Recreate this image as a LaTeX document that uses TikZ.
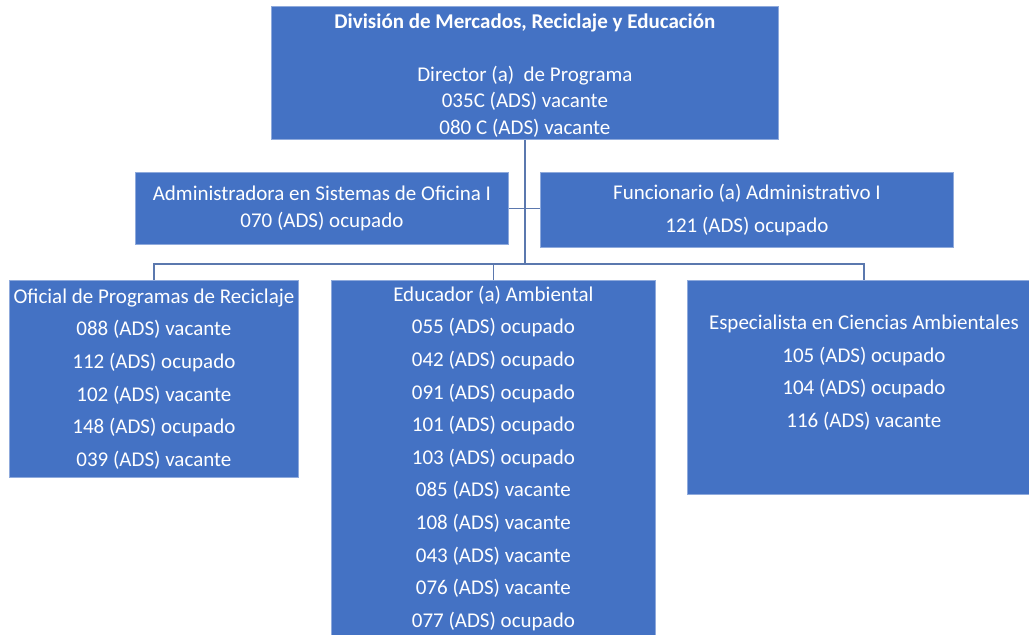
\documentclass[tikz,border=0pt]{standalone}
\usepackage{fontspec}
\setmainfont{Carlito}
\usepackage{xcolor}
\definecolor{boxblue}{HTML}{4472C4}
\definecolor{boxedge}{HTML}{8FAADC}
\definecolor{linkblue}{HTML}{5B78AE}
\tikzset{
  orgbox/.style={rectangle, fill=boxblue, draw=boxedge, line width=0.8pt,
    text=white, align=center, anchor=north west, inner sep=0pt},
  link/.style={draw=linkblue, line width=1.6pt}
}
\begin{document}
\begin{tikzpicture}[x=1pt,y=-1pt]
\def\busy{264}
\useasboundingbox (0,0) rectangle (1029,635);
  \node[orgbox, minimum width=507, minimum height=133,
        font=\fontsize{21}{26.5}\selectfont] (dir) at (271,6)
    {\rule{0pt}{20pt}\textbf{División de Mercados, Reciclaje y Educación}\\[26.5pt]
     Director (a)\ \ de Programa\\035C (ADS) vacante\\080 C (ADS) vacante};
  \node[orgbox, minimum width=373, minimum height=72,
        font=\fontsize{21}{27}\selectfont] (adm) at (135,172)
    {Administradora en Sistemas de Oficina I\\070 (ADS) ocupado};
  \node[orgbox, minimum width=413, minimum height=75,
        font=\fontsize{21}{33}\selectfont] (fun) at (540,172)
    {Funcionario (a) Administrativo I\\121 (ADS) ocupado};
  \node[orgbox, minimum width=289, minimum height=197,
        font=\fontsize{21}{32.6}\selectfont] (ofi) at (9,280)
    {Oficial de Programas de Reciclaje\\088 (ADS) vacante\\112 (ADS) ocupado\\
     102 (ADS) vacante\\148 (ADS) ocupado\\039 (ADS) vacante};
  \node[orgbox, minimum width=324, minimum height=356,
        font=\fontsize{21}{32.6}\selectfont] (edu) at (331,280)
    {Educador (a) Ambiental\\055 (ADS) ocupado\\042 (ADS) ocupado\\
     091 (ADS) ocupado\\101 (ADS) ocupado\\103 (ADS) ocupado\\
     085 (ADS) vacante\\108 (ADS) vacante\\043 (ADS) vacante\\
     076 (ADS) vacante\\077 (ADS) ocupado};
  \node[orgbox, minimum width=353, minimum height=214,
        font=\fontsize{21}{32.6}\selectfont] (esp) at (687,280)
    {Especialista en Ciencias Ambientales\\105 (ADS) ocupado\\
     104 (ADS) ocupado\\116 (ADS) vacante\\\mbox{}};
  \coordinate (bus) at (dir.south |- 0,\busy);
  \draw[link] (dir.south) -- (bus);
  \draw[link] (ofi.north) |- (bus) -| (esp.north);
  \draw[link] (edu.north) -- (edu.north |- bus);
  \draw[link] (adm.east) -- (fun.west |- adm.east);
\end{tikzpicture}
\end{document}
